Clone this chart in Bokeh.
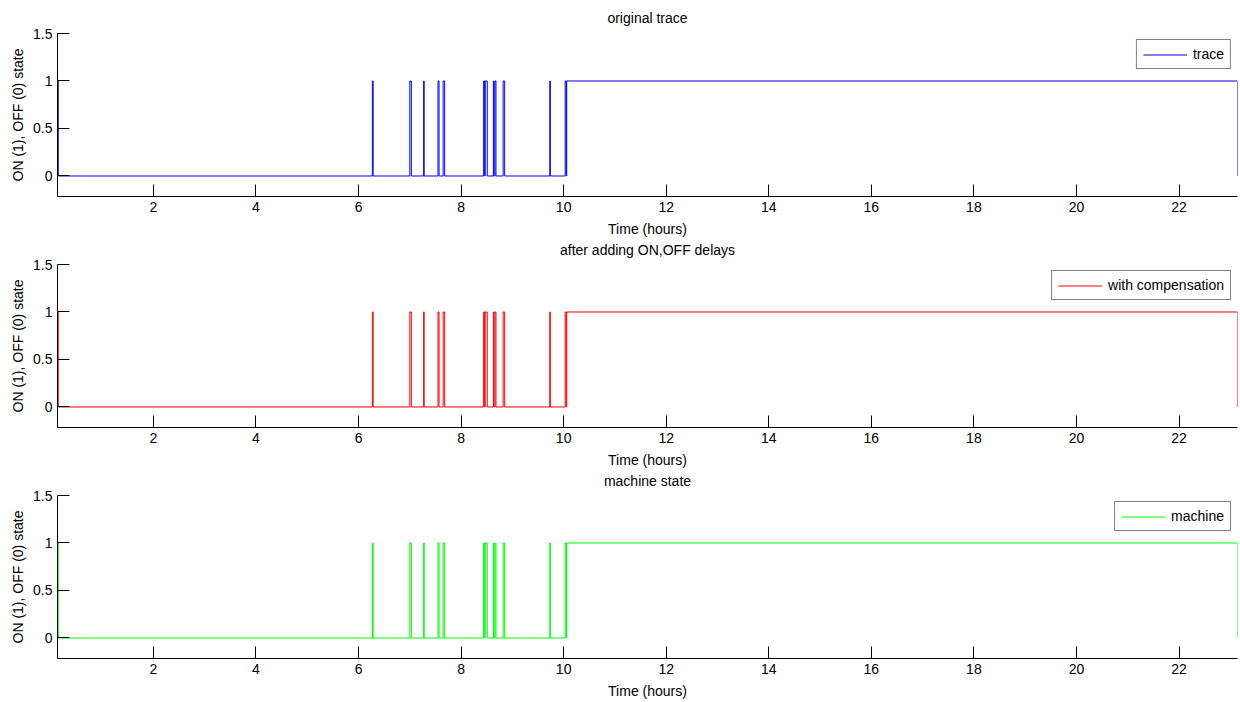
from bokeh.plotting import figure
from bokeh.layouts import column
from bokeh.models import FixedTicker, Range1d, Title
from bokeh.embed import file_html
from bokeh.resources import INLINE

# ---- data ----
x_ticks = [2, 4, 6, 8, 10, 12, 14, 16, 18, 20, 22]
y_ticks = [0, 0.5, 1, 1.5]
y_tick_labels = ["0", "0.5", "1", "1.5"]
x_start, x_end = 0.13, 23.14
y_start, y_end = -0.2158, 1.5

# switching instants (hours) and the state after each instant
trace_times = [0.13, 0.145, 6.27, 6.285, 7.00, 7.03, 7.27, 7.28, 7.55, 7.57,
               7.65, 7.68, 8.44, 8.46, 8.47, 8.51, 8.63, 8.64, 8.66, 8.68,
               8.82, 8.85, 9.73, 9.74, 10.03, 10.05, 10.06, 23.14]
trace_states = [1, 0, 1, 0, 1, 0, 1, 0, 1, 0,
                1, 0, 1, 0, 1, 0, 1, 0, 1, 0,
                1, 0, 1, 0, 1, 0, 1, 0]

comp_times = [0.13, 0.145, 6.27, 6.285, 7.00, 7.03, 7.27, 7.28, 7.55, 7.57,
              7.65, 7.68, 8.44, 8.46, 8.47, 8.51, 8.63, 8.64, 8.66, 8.68,
              8.82, 8.85, 9.73, 9.74, 10.03, 10.05, 10.06, 23.14]
comp_states = [1, 0, 1, 0, 1, 0, 1, 0, 1, 0,
               1, 0, 1, 0, 1, 0, 1, 0, 1, 0,
               1, 0, 1, 0, 1, 0, 1, 0]

machine_times = [0.13, 0.145, 6.27, 6.285, 7.00, 7.03, 7.27, 7.28, 7.55, 7.57,
                 7.65, 7.68, 8.44, 8.46, 8.47, 8.51, 8.63, 8.64, 8.66, 8.68,
                 8.82, 8.85, 9.73, 9.74, 10.03, 10.05, 10.06, 23.14]
machine_states = [1, 0, 1, 0, 1, 0, 1, 0, 1, 0,
                  1, 0, 1, 0, 1, 0, 1, 0, 1, 0,
                  1, 0, 1, 0, 1, 0, 1, 0]

titles = ["original trace", "after adding ON,OFF delays", "machine state"]
series = [
    (trace_times, trace_states, "#0000ff", "trace"),
    (comp_times, comp_states, "#ff0000", "with compensation"),
    (machine_times, machine_states, "#00ff00", "machine"),
]

FONT = "Liberation Sans"
FS = "14px"


def make_title(text, standoff):
    t = Title(text=text, align="center", text_font=FONT, text_font_size=FS,
              text_font_style="normal", text_color="#000000", standoff=standoff)
    return t


# (height, top border, bottom border)
sizes = [(258, 33, 62), (231, 6, 62), (212, 6, 43)]

figs = []
for i, ((xs, ys, color, label), (h, top, bottom)) in enumerate(zip(series, sizes)):
    p = figure(width=1238, height=h, output_backend="svg", toolbar_location=None,
               x_range=Range1d(x_start, x_end), y_range=Range1d(y_start, y_end),
               min_border_left=57, min_border_right=1, min_border_top=top,
               min_border_bottom=bottom)
    p.outline_line_color = None
    p.xgrid.visible = False
    p.ygrid.visible = False
    p.background_fill_color = "white"
    p.border_fill_color = "white"

    p.step(x=xs, y=ys, mode="after", line_color=color, line_width=1, legend_label=label)

    for ax in (p.xaxis[0], p.yaxis[0]):
        ax.axis_line_color = "black"
        ax.major_tick_line_color = "black"
        ax.major_tick_in = 12
        ax.major_tick_out = 0
        ax.minor_tick_line_color = None
        ax.major_label_text_font = FONT
        ax.major_label_text_font_size = FS
        ax.major_label_text_color = "#000000"
        ax.axis_label_text_font = FONT
        ax.axis_label_text_font_size = FS
        ax.axis_label_text_font_style = "normal"
        ax.axis_label_text_color = "#000000"
    p.xaxis.ticker = FixedTicker(ticks=x_ticks)
    p.yaxis.ticker = FixedTicker(ticks=y_ticks)
    p.yaxis.major_label_overrides = {t: s for t, s in zip(y_ticks, y_tick_labels)}
    p.xaxis.axis_label = "Time (hours)"
    p.yaxis.axis_label = "ON (1), OFF (0) state"
    p.xaxis.major_label_standoff = 5
    p.xaxis.axis_label_standoff = 6
    p.yaxis.major_label_standoff = 5
    p.yaxis.axis_label_standoff = 4

    # first subplot carries its own title above; the next subplot's title sits
    # under this subplot's x axis (as in the stacked original)
    if i == 0:
        p.add_layout(make_title(titles[0], 15), "above")
    if i + 1 < len(titles):
        p.add_layout(make_title(titles[i + 1], 0), "below")

    lg = p.legend[0]
    lg.location = "top_right"
    lg.margin = 6
    lg.padding = 6
    lg.border_line_color = "black"
    lg.border_line_width = 1
    lg.background_fill_color = "white"
    lg.background_fill_alpha = 1
    lg.label_text_font = FONT
    lg.label_text_font_size = FS
    lg.label_text_color = "#000000"
    lg.glyph_width = 44
    lg.glyph_height = 15
    lg.label_height = 15
    lg.label_standoff = 6
    figs.append(p)

layout = column(*figs, spacing=0)
open("out.html", "w").write(file_html(layout, INLINE))
